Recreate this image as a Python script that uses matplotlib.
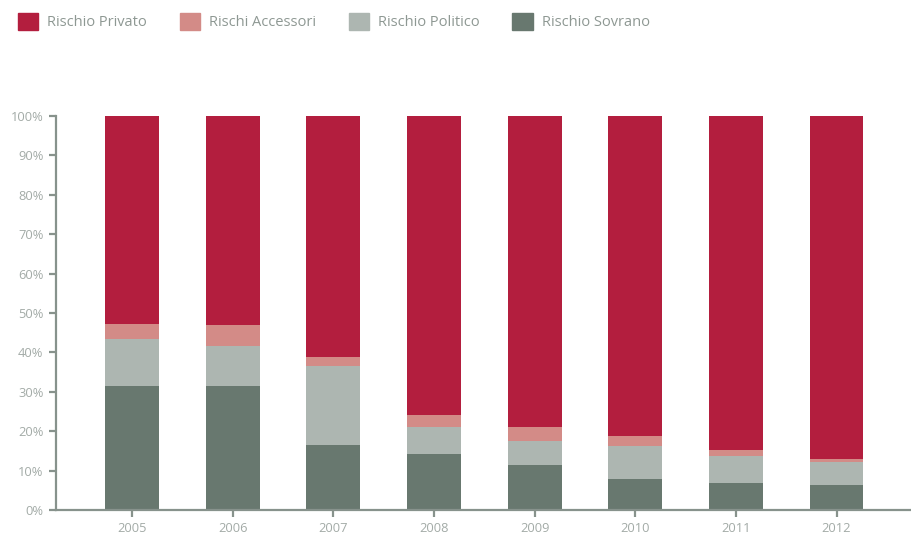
import matplotlib.pyplot as plt
from matplotlib.patches import Patch
import numpy as np

plt.rcParams['font.family'] = ['Open Sans', 'DejaVu Sans']

anni = ['2005', '2006', '2007', '2008', '2009', '2010', '2011', '2012']
sovrano = [31.5, 31.5, 16.5, 14.2, 11.4, 7.9, 6.9, 6.3]
politico = [11.9, 10.1, 20.0, 6.9, 6.1, 8.3, 6.8, 5.9]
accessori = [3.8, 5.4, 2.3, 3.0, 3.6, 2.6, 1.5, 0.7]
privato = [100 - s - p - a for s, p, a in zip(sovrano, politico, accessori)]

c_priv = '#b31e3e'
c_acc = '#d38b87'
c_pol = '#adb6b1'
c_sov = '#68786f'
c_axis = '#87928c'
c_text = '#a3aba7'

fig = plt.figure(figsize=(9.12, 5.37), dpi=100)
ax = fig.add_axes([56/912, 27/537, 856/912, 394/537])

x = np.arange(len(anni))
w = 0.536
b1 = np.array(sovrano)
b2 = b1 + np.array(politico)
b3 = b2 + np.array(accessori)
ax.bar(x, sovrano, w, color=c_sov, linewidth=0)
ax.bar(x, politico, w, bottom=b1, color=c_pol, linewidth=0)
ax.bar(x, accessori, w, bottom=b2, color=c_acc, linewidth=0)
ax.bar(x, privato, w, bottom=b3, color=c_priv, linewidth=0)

ax.set_xlim(-0.755, 7.75)
ax.set_ylim(0, 100)
ax.set_xticks(x)
ax.set_xticklabels(anni)
ax.set_yticks(np.arange(0, 101, 10))
ax.set_yticklabels([f'{v}%' for v in range(0, 101, 10)])

for s in ['top', 'right']:
    ax.spines[s].set_visible(False)
for s in ['left', 'bottom']:
    ax.spines[s].set_color(c_axis)
    ax.spines[s].set_linewidth(1.6)
ax.tick_params(axis='both', colors=c_axis, labelcolor=c_text, labelsize=9.3,
               width=1.6, length=5, pad=4)

handles = [Patch(color=c_priv, label='Rischio Privato'),
           Patch(color=c_acc, label='Rischi Accessori'),
           Patch(color=c_pol, label='Rischio Politico'),
           Patch(color=c_sov, label='Rischio Sovrano')]
leg = fig.legend(handles=handles, loc='upper left', bbox_to_anchor=(0.0054, 1.0),
                 ncol=4, frameon=False, fontsize=10.5, handlelength=1.4,
                 handleheight=1.4, handletextpad=0.6, columnspacing=2.25)
for t in leg.get_texts():
    t.set_color('#8e9893')

fig.savefig('out.png', dpi=100)
